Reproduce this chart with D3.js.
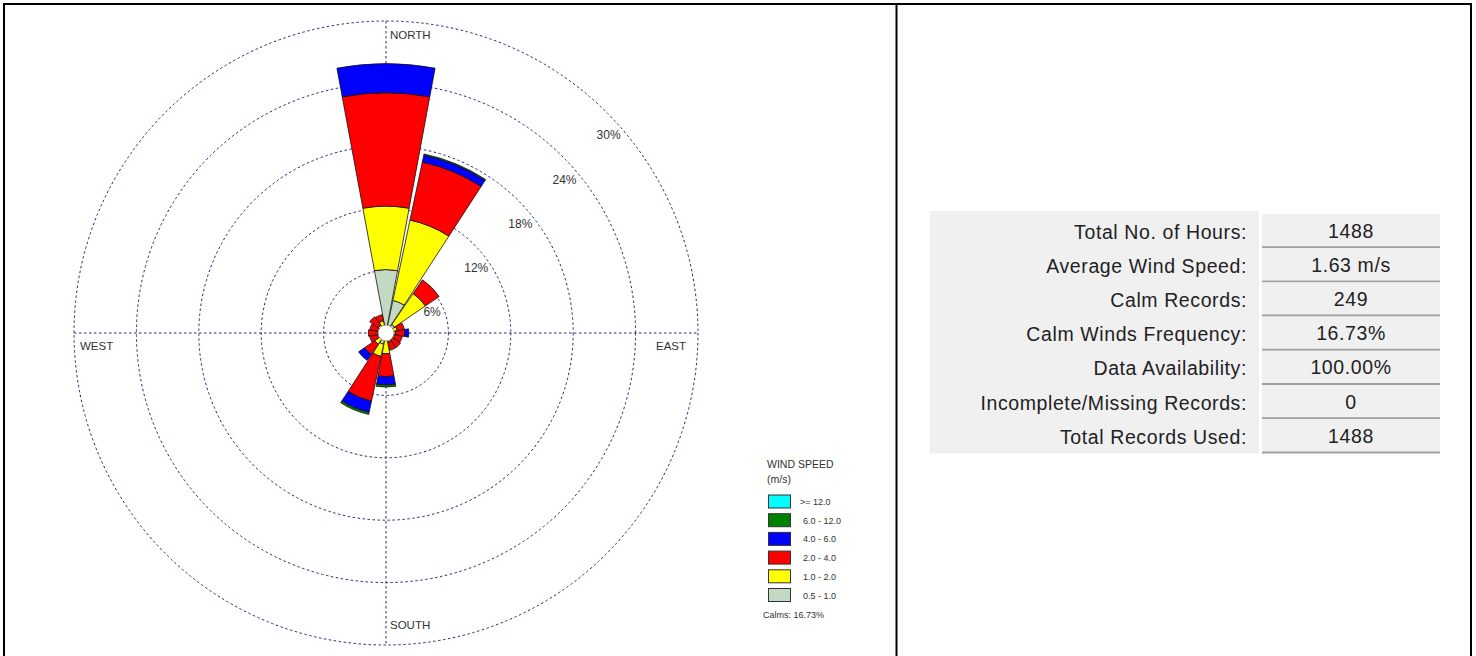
<!DOCTYPE html>
<html>
<script src="https://d3js.org/d3.v7.min.js"></script>
<body style="margin:0;background:white">
<div id="chart"></div>
<script>

// wind rose data (frequency %, per speed class and direction)
var directions = ["N","NNE","NE","ENE","E","ESE","SE","SSE","S","SSW","SW","WSW","W","WNW","NW","NNW"];
var speedClasses = ["0.5 - 1.0","1.0 - 2.0","2.0 - 4.0","4.0 - 6.0","6.0 - 12.0",">= 12.0"];
var classColors = ["#c3d9c3","#ffff00","#ff0000","#0000ff","#008000","#00ffff"];
var cls05_1  = [6.1, 3.2, 1.0, 0.5, 0.3, 0.3, 0.3, 0.3, 0.5, 1.1, 0.6, 0.3, 0.3, 0.3, 0.3, 0.4];
var cls1_2   = [6.1, 7.9, 3.6, 0.6, 0.6, 0.5, 0.5, 0.6, 1.5, 1.2, 0.7, 0.5, 0.5, 0.5, 0.6, 0.8];
var cls2_4   = [10.9, 5.7, 1.6, 0.7, 0.9, 0.8, 0.9, 0.8, 2.2, 4.4, 1.2, 0.8, 0.9, 0.8, 1.0, 0.6];
var cls4_6   = [2.8, 0.7, 0.0, 0.0, 0.4, 0.0, 0.0, 0.0, 0.8, 1.1, 0.7, 0.0, 0.0, 0.0, 0.0, 0.0];
var cls6_12  = [0.0, 0.1, 0.0, 0.0, 0.0, 0.0, 0.0, 0.0, 0.2, 0.2, 0.0, 0.0, 0.0, 0.0, 0.0, 0.0];
var cls12    = [0, 0, 0, 0, 0, 0, 0, 0, 0, 0, 0, 0, 0, 0, 0, 0];
var ringTicks = [6, 12, 18, 24, 30];
var compassLabels = ["NORTH","EAST","SOUTH","WEST"];
var calmsText = "Calms: 16.73%";

var tableLabels = ["Total No. of Hours:","Average Wind Speed:","Calm Records:","Calm Winds Frequency:","Data Availability:","Incomplete/Missing Records:","Total Records Used:"];
var tableValues = ["1488","1.63 m/s","249","16.73%","100.00%","0","1488"];

var width = 1476, height = 656;
var cx = 386, cy = 333;
var font = "Liberation Sans, Arial, sans-serif";

var svg = d3.select("#chart").append("svg")
    .attr("width", width).attr("height", height)
    .style("display","block")

// frame
svg.append("line").attr("x1",3).attr("y1",4).attr("x2",1472).attr("y2",4).attr("stroke","black").attr("stroke-width",2)
svg.append("line").attr("x1",4).attr("y1",3).attr("x2",4).attr("y2",656).attr("stroke","black").attr("stroke-width",2)
svg.append("line").attr("x1",896.5).attr("y1",3).attr("x2",896.5).attr("y2",656).attr("stroke","black").attr("stroke-width",2)
svg.append("line").attr("x1",1471).attr("y1",3).attr("x2",1471).attr("y2",656).attr("stroke","black").attr("stroke-width",2)

var r = d3.scaleLinear().domain([0, 30]).range([0, 312]);
var rose = svg.append("g").attr("transform","translate(" + cx + "," + cy + ")");

// grid
var gridCol = "#26267a";
rose.selectAll(".ring").data(ringTicks).enter().append("circle")
    .attr("class","ring")
    .attr("r", function(d){ return r(d) })
    .attr("fill","none").attr("stroke",gridCol).attr("stroke-width",1).attr("stroke-dasharray","2.5,2.5")
var rmax = r(d3.max(ringTicks));
rose.append("line").attr("x1",0).attr("y1",-rmax).attr("x2",0).attr("y2",rmax)
    .attr("stroke",gridCol).attr("stroke-dasharray","2.5,2.5")
rose.append("line").attr("x1",-rmax).attr("y1",0).attr("x2",rmax).attr("y2",0)
    .attr("stroke",gridCol).attr("stroke-dasharray","2.5,2.5")

// stacked bars
var rows = directions.map(function(d, i){
    return {dir: d, c0: cls05_1[i], c1: cls1_2[i], c2: cls2_4[i], c3: cls4_6[i], c4: cls6_12[i], c5: cls12[i]};
});
var keys = ["c0","c1","c2","c3","c4","c5"];
var stacked = d3.stack().keys(keys)(rows);
var half = 10.5 * Math.PI / 180;
var arc = d3.arc();

stacked.forEach(function(layer, k){
    rose.selectAll(".seg" + k).data(layer).enter().append("path")
        .attr("class","seg" + k)
        .attr("d", function(d, i){
            if (d[1] - d[0] <= 0) return null;
            var a = i * 2 * Math.PI / directions.length;
            return arc({innerRadius: r(d[0]), outerRadius: r(d[1]), startAngle: a - half, endAngle: a + half});
        })
        .attr("fill", classColors[k])
        .attr("stroke","#111").attr("stroke-width",0.8)
});

// calm circle
rose.append("circle").attr("r",8).attr("fill","white").attr("stroke","#888").attr("stroke-width",0.8)

// ring labels
rose.selectAll(".rlab").data(ringTicks).enter().append("text")
    .attr("x", function(d){ return r(d) * Math.SQRT1_2 + 2 })
    .attr("y", function(d){ return -r(d) * Math.SQRT1_2 + 27 })
    .attr("text-anchor","middle")
    .attr("font-family",font).attr("font-size",12).attr("fill","#333")
    .text(function(d){ return d + "%" })

// compass labels
rose.append("text").attr("x",4).attr("y",-294).text(compassLabels[0])
rose.append("text").attr("x",270).attr("y",17).text(compassLabels[1])
rose.append("text").attr("x",4).attr("y",296).text(compassLabels[2])
rose.append("text").attr("x",-306).attr("y",17).text(compassLabels[3])
rose.selectAll("text").filter(function(){ return !this.getAttribute("font-size") })
    .attr("font-family",font).attr("font-size",11.5).attr("fill","#333")

// legend
var lg = svg.append("g").attr("transform","translate(768,0)");
lg.append("text").attr("x",-1).attr("y",468).text("WIND SPEED")
lg.append("text").attr("x",-1).attr("y",483).text("(m/s)")
lg.selectAll("text").attr("font-family",font).attr("font-size",10.5).attr("fill","#333")
var legendOrder = [5,4,3,2,1,0];
legendOrder.forEach(function(k, j){
    var y = 495 + j * 18.7;
    lg.append("rect").attr("x",0.5).attr("y",y).attr("width",22).attr("height",13)
        .attr("fill",classColors[k]).attr("stroke","#333").attr("stroke-width",1)
    lg.append("text").attr("x", k == 5 ? 32 : 35).attr("y", y + 10)
        .attr("font-family",font).attr("font-size",9).attr("fill","#333")
        .text(speedClasses[k].replace(/^(\d\.\d) - (\d\.\d)$/, "$1 -  $2"))
});
lg.append("text").attr("x",-5).attr("y",618)
    .attr("font-family",font).attr("font-size",9).attr("fill","#333")
    .text(calmsText)

// summary table
var tb = svg.append("g");
var rowH = 34.2, tableTop = 214;
tb.append("rect").attr("x",930).attr("y",211).attr("width",329).attr("height",rowH*tableLabels.length+3).attr("fill","#f0f0f0")
tableLabels.forEach(function(t, i){
    var y0 = tableTop + i * rowH;
    tb.append("rect").attr("x",1262).attr("y",y0).attr("width",178).attr("height",rowH - 1).attr("fill","#f0f0f0")
    tb.append("line").attr("x1",1262).attr("x2",1440).attr("y1",y0 + rowH - 1).attr("y2",y0 + rowH - 1)
        .attr("stroke","#a0a0a0").attr("stroke-width",2)
    tb.append("text").attr("x",1247).attr("y",y0 + 24.5).attr("text-anchor","end")
        .attr("font-family",font).attr("font-size",19.5).attr("letter-spacing",0.6).attr("fill","#222").text(t)
    tb.append("text").attr("x",1351).attr("y",y0 + 23.5).attr("text-anchor","middle")
        .attr("font-family",font).attr("font-size",19.5).attr("letter-spacing",0.6).attr("fill","#222").text(tableValues[i])
});

</script>
</body>
</html>
